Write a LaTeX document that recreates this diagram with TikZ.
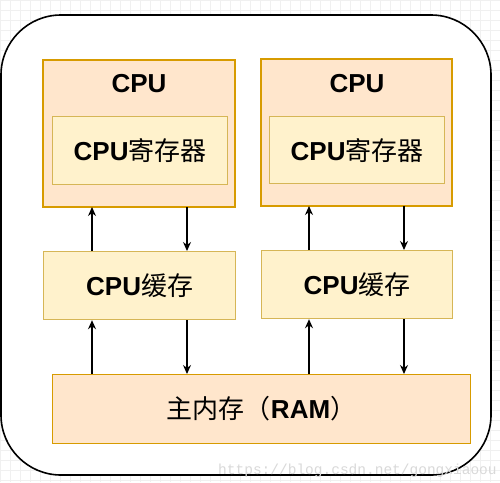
\documentclass[tikz,border=0pt]{standalone}
\usepackage{fontspec}
\setmainfont{Liberation Sans}
\newfontfamily\cjk{Noto Sans CJK SC}
\newfontfamily\wmfont{Liberation Mono}
\usetikzlibrary{arrows.meta}
\definecolor{orfill}{HTML}{FFE6CC}
\definecolor{ordraw}{HTML}{D79B00}
\definecolor{yefill}{HTML}{FFF2CC}
\definecolor{yedraw}{HTML}{D6B656}
\definecolor{gridc}{HTML}{F0F0F0}
\tikzset{
  orbox/.style={draw=ordraw, fill=orfill, line width=1.2pt},
  yebox/.style={draw=yedraw, fill=yefill, line width=1.2pt},
  lbl/.style={font=\fontsize{26}{30}\selectfont, inner sep=0pt},
  conn/.style={-{Stealth[length=9pt,width=8pt]}, line width=1.3pt, black},
}
\begin{document}
\begin{tikzpicture}[x=1pt,y=-1pt]
\useasboundingbox (0,0) rectangle (500,482);
% background grid
\foreach \i in {0,10,...,500} {\draw[gridc, line width=0.6pt] (\i,0) -- (\i,482);}
\foreach \j in {0,10,...,480} {\draw[gridc, line width=0.6pt] (0,\j) -- (500,\j);}
% outer container
\draw[line width=1.6pt, fill=white, rounded corners=60pt] (1,15) rectangle (491,475);
% CPU boxes
\draw[orbox] (43,60) rectangle (235,207);
\node[lbl, font=\fontsize{26}{30}\selectfont\bfseries] (cpuL) at (139,84) {CPU};
\node[yebox, minimum width=175pt, minimum height=68pt, anchor=north west, lbl] (regL) at (52,116) {\textbf{CPU}{\cjk 寄存器}};
\draw[orbox] (261,59) rectangle (452,206);
\node[lbl, font=\fontsize{26}{30}\selectfont\bfseries] (cpuR) at (357,84) {CPU};
\node[yebox, minimum width=175pt, minimum height=67pt, anchor=north west, lbl] (regR) at (269,116) {\textbf{CPU}{\cjk 寄存器}};
% connector anchor points on the CPU boxes
\coordinate (cpuLb1) at (92,207); \coordinate (cpuLb2) at (187,207);
\coordinate (cpuRb1) at (309,206); \coordinate (cpuRb2) at (404,206);
% caches
\node[yebox, minimum width=192pt, minimum height=68pt, anchor=north west, lbl] (cacheL) at (43,251) {\textbf{CPU}{\cjk 缓存}};
\node[yebox, minimum width=191pt, minimum height=68pt, anchor=north west, lbl] (cacheR) at (261,250) {\textbf{CPU}{\cjk 缓存}};
% RAM
\node[orbox, minimum width=418pt, minimum height=69pt, anchor=north west, lbl] (ram) at (52,374) {{\cjk 主内存（}\textbf{RAM}{\cjk ）}};
% connectors
\draw[conn] (cacheL.north -| cpuLb1) -- (cpuLb1);
\draw[conn] (cpuLb2) -- (cacheL.north -| cpuLb2);
\draw[conn] (cacheR.north -| cpuRb1) -- (cpuRb1);
\draw[conn] (cpuRb2) -- (cacheR.north -| cpuRb2);
\draw[conn] (ram.north -| cpuLb1) -- (cacheL.south -| cpuLb1);
\draw[conn] (cacheL.south -| cpuLb2) -- (ram.north -| cpuLb2);
\draw[conn] (ram.north -| cpuRb1) -- (cacheR.south -| cpuRb1);
\draw[conn] (cacheR.south -| cpuRb2) -- (ram.north -| cpuRb2);
% watermark
\node[anchor=base west, inner sep=0pt, text=black!15, font=\wmfont\fontsize{14.5}{16}\selectfont] (wm) at (218,474) {https://blog.csdn.net/gongxiaoou};
\end{tikzpicture}
\end{document}
